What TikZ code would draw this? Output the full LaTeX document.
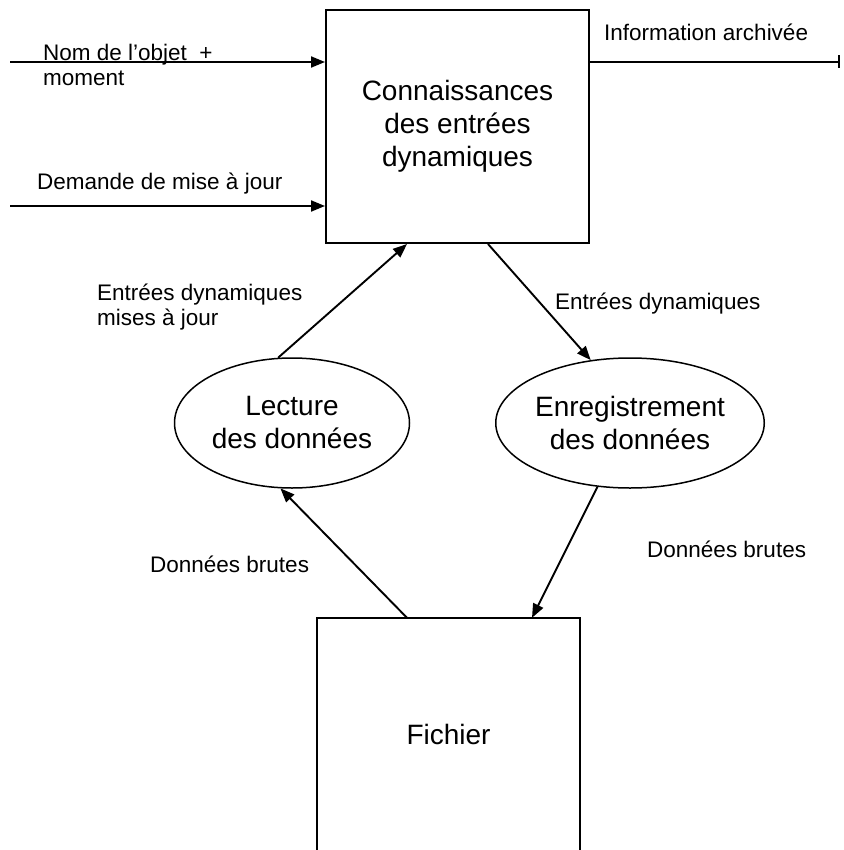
\documentclass[tikz,border=0pt]{standalone}
\usepackage{fontspec}
\setmainfont{Liberation Sans}
\usetikzlibrary{arrows.meta,shapes.geometric}
\begin{document}
\begin{tikzpicture}[x=1pt,y=-1pt,
  flow/.style={line width=1.9pt,-{Triangle[length=14pt,width=11pt]}},
  lbl/.style={font=\fontsize{22.5}{25}\selectfont, inner sep=0pt, align=left},
  proc/.style={draw, line width=2pt, minimum width=263pt, minimum height=233pt,
    inner sep=0pt, font=\fontsize{28}{33}\selectfont, align=center},
  bubble/.style={draw, ellipse, line width=1.5pt, minimum width=235pt,
    minimum height=130pt, inner sep=0pt, font=\fontsize{28}{33}\selectfont, align=center}]
\useasboundingbox (0,0) rectangle (843,850);

% processes and store
\node[proc] (kb) at (457.5,126.5) {\rule{0pt}{8pt}Connaissances\\des entrées\\dynamiques};
\node[bubble] (lec) at (292,423) {Lecture\\des données};
\node[bubble] (enr) at (630,423) {Enregistrement\\des données};
\node[minimum width=263pt, minimum height=232pt, inner sep=0pt,
  font=\fontsize{28}{33}\selectfont] (fic) at (448.5,734) {Fichier};
\draw[line width=2pt] (fic.south west) -- (fic.north west) -- (fic.north east) -- (fic.south east);

% external flows
\coordinate (in1) at (10,62);
\coordinate (in2) at (10,206);
\coordinate (out) at (840,62);
\draw[flow] (in1) -- (in1 -| kb.west);
\draw[flow] (in2) -- (in2 -| kb.west);
\draw[line width=1.9pt,-{Bar[width=13pt]}] (out -| kb.east) -- (out);

% internal flows
\draw[flow] (lec.102) -- ([xshift=-50.5pt]kb.south);
\draw[flow] ([xshift=30.5pt]kb.south) -- (enr.122);
\draw[flow] ([xshift=-41.5pt]fic.north) -- (lec.260);
\draw[flow] (enr.243) -- ([xshift=83.5pt]fic.north);

% flow labels
\node[lbl, anchor=west] (t1) at (43,65) {Nom de l'objet\ \ +\\moment};
\node[lbl, anchor=west] (t2) at (37,184) {Demande de mise à jour};
\node[lbl, anchor=west] (t3) at (604,32) {Information archivée};
\node[lbl, anchor=west] (t4) at (97,307) {Entrées dynamiques\\mises à jour};
\node[lbl, anchor=west] (t5) at (555,304) {Entrées dynamiques};
\node[lbl, anchor=west] (t6) at (150,564) {Données brutes};
\node[lbl, anchor=west] (t7) at (647,549) {Données brutes};
\end{tikzpicture}
\end{document}
